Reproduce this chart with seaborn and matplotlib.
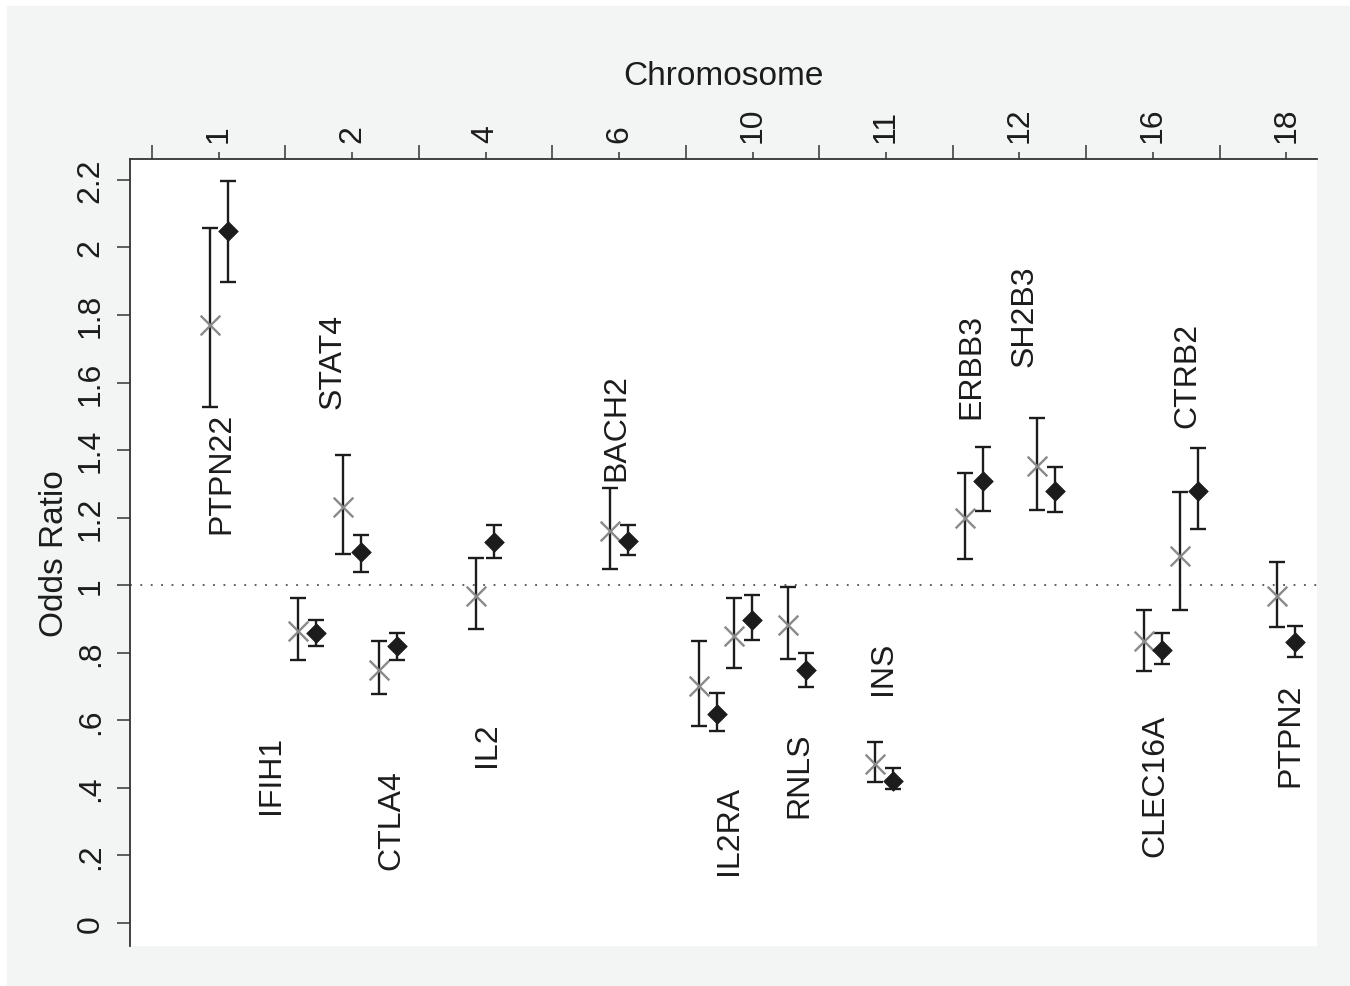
import numpy as np
import pandas as pd
import seaborn as sns
import matplotlib.pyplot as plt
from matplotlib.patches import Rectangle

sns.set_theme(style="white")
plt.rcParams['font.family'] = ['Liberation Sans', 'DejaVu Sans']

# chromosomes shown on the top axis
chrom_labels = ['1', '2', '4', '6', '10', '11', '12', '16', '18']

# gene position along the (compressed) chromosome axis
gene_pos = [0.0, 0.662, 0.997, 1.267, 1.996, 3.0, 3.664, 3.932, 4.331,
            4.987, 5.663, 6.199, 7.0, 7.27, 8.0]

# first estimate (grey crosses)
or_a = [1.771, 0.865, 1.231, 0.750, 0.967, 1.162, 0.701, 0.851, 0.882,
        0.471, 1.200, 1.353, 0.835, 1.087, 0.968]
lo_a = [1.528, 0.779, 1.093, 0.679, 0.871, 1.048, 0.584, 0.755, 0.782,
        0.418, 1.078, 1.223, 0.746, 0.927, 0.877]
hi_a = [2.058, 0.961, 1.386, 0.834, 1.080, 1.287, 0.834, 0.962, 0.994,
        0.537, 1.333, 1.495, 0.927, 1.276, 1.069]

# second estimate (black diamonds)
or_b = [2.050, 0.859, 1.098, 0.819, 1.129, 1.132, 0.619, 0.898, 0.750,
        0.421, 1.309, 1.279, 0.808, 1.279, 0.832]
lo_b = [1.899, 0.819, 1.039, 0.779, 1.080, 1.090, 0.569, 0.839, 0.700,
        0.397, 1.220, 1.217, 0.767, 1.167, 0.788]
hi_b = [2.198, 0.898, 1.149, 0.859, 1.179, 1.179, 0.680, 0.971, 0.800,
        0.458, 1.410, 1.350, 0.859, 1.407, 0.879]

# gene names
gene_names = ['PTPN22', 'IFIH1', 'STAT4', 'CTLA4', 'IL2', 'BACH2', 'IL2RA',
              'RNLS', 'INS', 'ERBB3', 'SH2B3', 'CLEC16A', 'CTRB2', 'PTPN2']
# where each name is written (layout only)
name_xy = [(0.02, 1.333), (0.39, 0.441), (0.855, 1.667), (1.29, 0.308),
           (2.01, 0.53), (2.98, 1.469), (3.82, 0.278), (4.35, 0.441),
           (4.98, 0.758), (5.64, 1.652), (6.04, 1.80), (7.02, 0.409),
           (7.26, 1.623), (8.03, 0.56)]

off = 0.0675
df = pd.DataFrame({'pos': gene_pos, 'or_a': or_a, 'lo_a': lo_a, 'hi_a': hi_a,
                   'or_b': or_b, 'lo_b': lo_b, 'hi_b': hi_b})
df['xa'] = df['pos'] - off
df['xb'] = df['pos'] + off

ink = '#1c1c1c'
grey = '#8a8a8a'

fig = plt.figure(figsize=(13.5, 9.87), dpi=100, facecolor='white')
fig.patches.append(Rectangle((7 / 1350, 0), 1, 1 - 7 / 987, transform=fig.transFigure,
                             facecolor='#f3f5f4', edgecolor='none', zorder=-10))
ax = fig.add_axes([130 / 1350, 1 - 947 / 987, (1317 - 130) / 1350, (947 - 160) / 987])
ax.set_facecolor('white')

ax.axhline(1, color='#333333', lw=1.1, ls=(0, (1.2, 5.6)), zorder=1)

ax.errorbar(df['xa'], df['or_a'], yerr=[df['or_a'] - df['lo_a'], df['hi_a'] - df['or_a']],
            fmt='none', ecolor=ink, elinewidth=1.7, capsize=6, capthick=1.7, zorder=2)
ax.errorbar(df['xb'], df['or_b'], yerr=[df['or_b'] - df['lo_b'], df['hi_b'] - df['or_b']],
            fmt='none', ecolor=ink, elinewidth=1.7, capsize=6, capthick=1.7, zorder=2)

sns.scatterplot(data=df, x='xa', y='or_a', marker='x', s=200, color=grey,
                linewidth=1.7, ax=ax, zorder=3, legend=False)
sns.scatterplot(data=df, x='xb', y='or_b', marker='D', s=100, color=ink,
                edgecolor=ink, linewidth=0.5, ax=ax, zorder=4, legend=False)

for name, (tx, ty) in zip(gene_names, name_xy):
    ax.text(tx, ty, name, rotation=90, ha='center', va='center', fontsize=23, color=ink)

ax.set_xlim(-0.665, 8.23)
ax.set_ylim(-0.068, 2.262)

# y axis, Stata style labels
yt = np.arange(0, 2.21, 0.2)
ylab = []
for v in yt:
    s = f'{v:.1f}'.rstrip('0').rstrip('.')
    if s.startswith('0.'):
        s = s[1:]
    ylab.append(s)
ax.set_yticks(yt)
ax.set_yticklabels(ylab, rotation=90, va='center', fontsize=23, color=ink)
ax.tick_params(axis='y', direction='out', length=9.5, width=1.1, color='#333333', pad=8, left=True)

# top axis: chromosomes
ax.xaxis.tick_top()
ax.xaxis.set_label_position('top')
ax.set_xticks(np.arange(len(chrom_labels)))
ax.set_xticklabels(chrom_labels, rotation=90, fontsize=23, color=ink)
ax.set_xticks(np.arange(-0.5, 8, 1.0), minor=True)
ax.tick_params(axis='x', which='major', direction='out', length=5, width=1.1,
               color='#333333', pad=7, top=True, bottom=False)
ax.tick_params(axis='x', which='minor', direction='out', length=10, width=1.1,
               color='#333333', top=True, bottom=False)
ax.set_xlabel('Chromosome', fontsize=24, color=ink, labelpad=16)
ax.set_ylabel('Odds Ratio', fontsize=24, color=ink, labelpad=4)

for side in ['bottom', 'right']:
    ax.spines[side].set_visible(False)
for side in ['left', 'top']:
    ax.spines[side].set_color('#333333')
    ax.spines[side].set_linewidth(1.3)

fig.savefig('out.png', dpi=100, facecolor=fig.get_facecolor())
